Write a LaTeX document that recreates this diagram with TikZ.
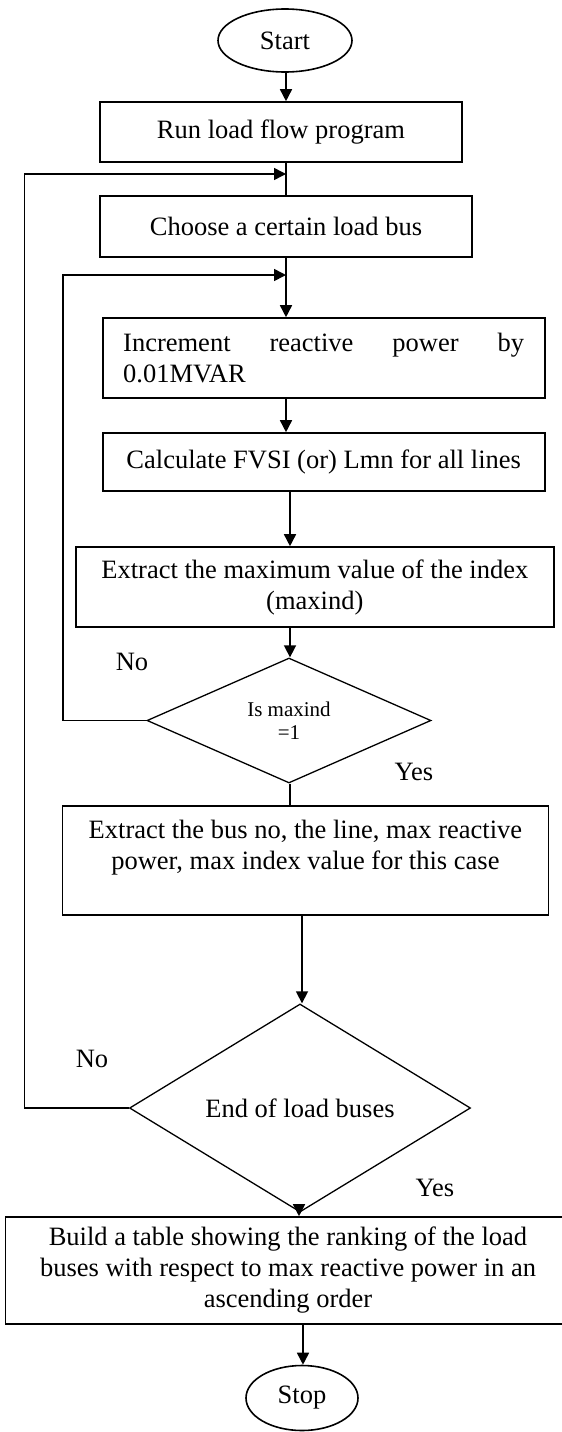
\documentclass[tikz,border=0pt]{standalone}
\usepackage{fontspec}
\setmainfont{Liberation Serif}
\usetikzlibrary{shapes.geometric,arrows.meta}
\begin{document}
\begin{tikzpicture}[x=1pt,y=-1pt,
  line width=1.6pt,
  every node/.style={font=\fontsize{26.5}{31}\selectfont},
  procbox/.style={draw,rectangle,inner sep=0pt,align=center},
  term/.style={draw,ellipse,inner sep=0pt},
  decide/.style={draw,diamond,inner sep=0pt,align=center,line width=1.3pt},
  lbl/.style={inner sep=0pt},
  arr/.style={-{Triangle[length=12pt,width=12pt]}}
]
\useasboundingbox (0,0) rectangle (562,1432);

\node[term,minimum width=134pt,minimum height=63pt] (start) at (285,40.5) {Start};
\node[procbox,minimum width=362pt,minimum height=60pt] (b1) at (281,132) {Run load flow program};
\node[procbox,minimum width=372pt,minimum height=61pt] (b2) at (286,226.5) {Choose a certain load bus};
\node[procbox,minimum width=442pt,minimum height=80pt,text width=401pt,align=justify] (b3) at (323.7,358) {Increment reactive power by\linebreak 0.01MVAR};
\node[procbox,minimum width=442pt,minimum height=58pt] (b4) at (323.7,462) {Calculate FVSI (or) Lmn for all lines};
\node[procbox,minimum width=478pt,minimum height=80pt] (b5) at (314.8,587) {Extract the maximum value of the index\\(maxind)};
\node[decide,minimum width=284pt,minimum height=125pt,font=\fontsize{21}{23}\selectfont] (d1) at (289,720.5) {Is maxind\\=1};
\node[procbox,minimum width=486pt,minimum height=109pt] (b6) at (305.4,860.5) {Extract the bus no, the line, max reactive\\power, max index value for this case\\\mbox{}};
\node[decide,minimum width=341pt,minimum height=128pt] (d2) at (300,1108) {End of load buses};
\node[procbox,minimum width=565pt,minimum height=107pt] (b7) at (288,1270.5) {Build a table showing the ranking of the load\\buses with respect to max reactive power in an\\ascending order};
\node[term,minimum width=112pt,minimum height=65pt] (stop) at (302,1398) {Stop};

\node[lbl] (no1) at (132,662) {No};
\node[lbl] (yes1) at (414,772) {Yes};
\node[lbl] (no2) at (92,1059) {No};
\node[lbl] (yes2) at (435,1188) {Yes};

\coordinate (j1) at (286,174);
\coordinate (j2) at (286,275);
\coordinate (o1) at (24.5,1108);
\coordinate (o2) at (24.5,174);
\coordinate (i1) at (63,720.5);
\coordinate (i2) at (63,275);

\draw[arr] (286,0 |- start.south) -- (286,0 |- b1.north);
\draw (286,0 |- b1.south) -- (286,0 |- b2.north);
\draw (286,0 |- b2.south) -- (j2);
\draw[arr] (j2) -- (286,0 |- b3.north);
\draw[arr] (286,0 |- b3.south) -- (286,0 |- b4.north);
\draw[arr] (290,0 |- b4.south) -- (290,0 |- b5.north);
\draw[arr] (290,0 |- b5.south) -- (290,0 |- d1.north);
\draw (290,0 |- d1.south) -- (290,0 |- b6.north);
\draw[arr] (302,0 |- b6.south) -- (302,0 |- d2.north);
\draw[arr] (299,0 |- d2.south) -- (299,0 |- b7.north);
\draw[arr] (303,0 |- b7.south) -- (303,0 |- stop.north);

\draw[arr] (d1.west) -- (i1) -- (i2) -- (j2);
\draw[arr] (d2.west) -- (o1) -- (o2) -- (j1);
\end{tikzpicture}
\end{document}
